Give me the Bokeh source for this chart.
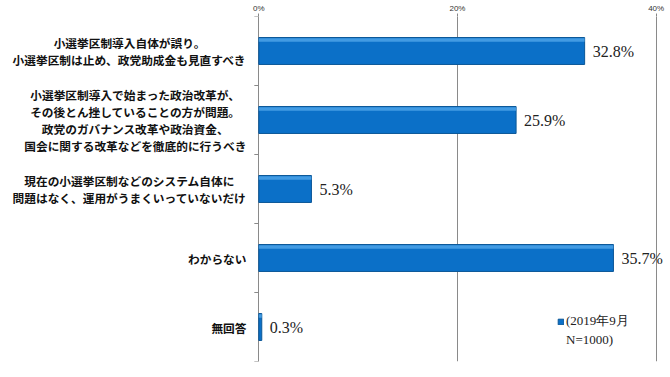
from bokeh.plotting import figure
from bokeh.models import ColumnDataSource, FactorRange, Range1d, FixedTicker, Legend, LegendItem
from bokeh.core.properties import value
from bokeh.transform import dodge
from bokeh.embed import file_html
from bokeh.resources import INLINE

categories = [
    "小選挙区制導入自体が誤り。\n小選挙区制は止め、政党助成金も見直すべき",
    "小選挙区制導入で始まった政治改革が、\nその後とん挫していることの方が問題。\n政党のガバナンス改革や政治資金、\n国会に関する改革などを徹底的に行うべき",
    "現在の小選挙区制などのシステム自体に\n問題はなく、運用がうまくいっていないだけ",
    "わからない",
    "無回答",
]
values = [32.8, 25.9, 5.3, 35.7, 0.3]
value_labels = ["32.8%", "25.9%", "5.3%", "35.7%", "0.3%"]
x_ticks = [0, 20, 40]
x_tick_labels = ["0%", "20%", "40%"]
series_name_lines = ["(2019年9月", "N=1000)"]

FS = 11.7
LH = 16.8
GAP = 12.3

src = ColumnDataSource(dict(cat=categories, val=values, lab=value_labels))

lt, lc, lx, ly = [], [], [], []
for c in categories:
    lines = c.split("\n")
    n = len(lines)
    m = max(len(s) for s in lines)
    for i, s in enumerate(lines):
        lt.append(s)
        lc.append(c)
        lx.append(-(GAP + m * FS / 2))
        ly.append((i - (n - 1) / 2) * LH)
lsrc = ColumnDataSource(dict(txt=lt, cat=lc, xo=lx, yo=ly))

p = figure(width=665, height=362, output_backend="svg", toolbar_location=None,
           y_range=FactorRange(factors=categories[::-1], range_padding=0),
           x_range=Range1d(-26.0, 40.94), x_axis_location="above",
           min_border_left=0, min_border_right=0, min_border_bottom=1, min_border_top=14)
p.outline_line_color = None
p.yaxis.visible = False
p.ygrid.visible = False

ax = p.xaxis[0]
ax.ticker = FixedTicker(ticks=x_ticks)
ax.major_label_overrides = {t: l for t, l in zip(x_ticks, x_tick_labels)}
ax.axis_line_color = None
ax.major_tick_line_color = "#888888"
ax.major_tick_out = 3
ax.major_tick_in = 0
ax.minor_tick_line_color = None
ax.major_label_standoff = 1
ax.major_label_text_font = "Liberation Sans"
ax.major_label_text_font_size = "8px"
ax.major_label_text_color = "#333333"

p.xgrid.ticker = FixedTicker(ticks=x_ticks)
p.xgrid.grid_line_color = "#8a8a8a"
p.xgrid.grid_line_width = 1

bounds = list(range(len(categories) + 1))
p.segment(x0=-0.45, x1=0, y0=bounds, y1=bounds, line_color="#8a8a8a", line_width=1)

bars = p.hbar(y="cat", right="val", left=0, height=0.39, source=src,
              fill_color="#0B70C8", line_color="#0A5697", line_width=1)
p.hbar(y=dodge("cat", 0.16, range=p.y_range), right="val", left=0, height=0.05, source=src,
       fill_color="#5AAEEE", line_color=None, fill_alpha=0.7)

p.text(x="val", y="cat", text="lab", source=src, x_offset=8, text_baseline="middle",
       text_font=value("Liberation Serif"), text_font_size="16px", text_color="#222222")

p.text(x=0, y="cat", text="txt", x_offset="xo", y_offset="yo", source=lsrc,
       text_align="center", text_baseline="middle",
       text_font=value("Noto Sans CJK JP"), text_font_style="bold",
       text_font_size=f"{FS}px", text_color="#111111")

dummy = p.hbar(y=[], right=[], left=[], height=0.4, fill_alpha=0, line_alpha=0)

legend = Legend(items=[LegendItem(label=series_name_lines[0], renderers=[bars]),
                       LegendItem(label=series_name_lines[1], renderers=[dummy])],
                location=(557, 13), padding=0, margin=0, spacing=2,
                glyph_width=7, glyph_height=7, label_standoff=2, label_height=16,
                label_text_font="Liberation Serif", label_text_font_size="13px",
                label_text_color="#222222", border_line_color=None,
                background_fill_alpha=0)
p.add_layout(legend)

open("out.html", "w").write(file_html(p, INLINE))
